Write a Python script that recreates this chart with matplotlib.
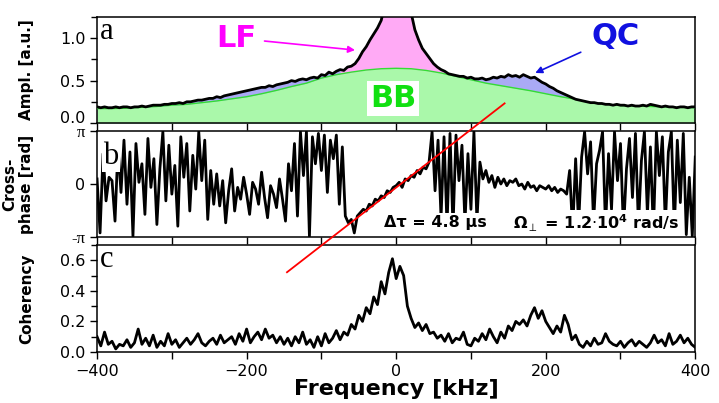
import numpy as np
import matplotlib
matplotlib.use('Agg')
import matplotlib.pyplot as plt
from matplotlib.lines import Line2D
from matplotlib.ticker import MultipleLocator, FormatStrFormatter

plt.rcParams['font.family'] = ['DejaVu Sans']
plt.rcParams['mathtext.fontset'] = 'dejavusans'

# frequency grids [kHz]
freq = np.arange(-400, 401, 5)
freq_phase = np.arange(-400, 401, 4)
freq_bb = np.arange(-400, 401, 20)

# (a) amplitude spectrum and broadband background
amplitude = [
    0.19, 0.18, 0.19, 0.18, 0.18, 0.19, 0.18, 0.19, 0.19, 0.18,
    0.19, 0.19, 0.20, 0.19, 0.20, 0.21, 0.21, 0.21, 0.22, 0.22,
    0.23, 0.23, 0.24, 0.23, 0.25, 0.25, 0.26, 0.27, 0.27, 0.28,
    0.29, 0.29, 0.31, 0.30, 0.32, 0.33, 0.34, 0.35, 0.36, 0.37,
    0.38, 0.39, 0.40, 0.41, 0.42, 0.42, 0.44, 0.43, 0.45, 0.46,
    0.47, 0.48, 0.50, 0.49, 0.51, 0.52, 0.51, 0.53, 0.54, 0.53,
    0.57, 0.56, 0.60, 0.58, 0.61, 0.63, 0.62, 0.66, 0.67, 0.70,
    0.76, 0.84, 0.90, 0.98, 1.05, 1.12, 1.21, 1.40, 1.70, 2.00,
    2.20, 2.00, 1.70, 1.45, 1.30, 1.10, 0.98, 0.88, 0.82, 0.76,
    0.70, 0.66, 0.63, 0.61, 0.58, 0.57, 0.56, 0.55, 0.55, 0.53,
    0.54, 0.52, 0.52, 0.53, 0.51, 0.52, 0.54, 0.53, 0.55, 0.54,
    0.57, 0.55, 0.56, 0.54, 0.57, 0.55, 0.53, 0.54, 0.51, 0.48,
    0.46, 0.43, 0.41, 0.38, 0.36, 0.34, 0.32, 0.30, 0.28, 0.27,
    0.26, 0.25, 0.24, 0.24, 0.23, 0.23, 0.22, 0.22, 0.21, 0.22,
    0.21, 0.21, 0.20, 0.21, 0.20, 0.20, 0.21, 0.20, 0.22, 0.21,
    0.20, 0.19, 0.20, 0.19, 0.19, 0.18, 0.19, 0.19, 0.18, 0.19,
    0.19,
]
broadband = [
    0.17, 0.17, 0.175, 0.185, 0.195, 0.21, 0.22, 0.24, 0.26, 0.285,
    0.31, 0.345, 0.385, 0.43, 0.47, 0.53, 0.57, 0.60, 0.625, 0.64,
    0.645, 0.64, 0.62, 0.59, 0.55, 0.51, 0.47, 0.44, 0.41, 0.38,
    0.345, 0.31, 0.28, 0.24, 0.225, 0.205, 0.20, 0.195, 0.19, 0.185,
    0.18,
]

# (b) cross-phase [rad]
cross_phase = [
    0.3, -2.9, 1.8, -1.0, 0.4, 0.2, -2.2, 2.2, -0.5, 2.6,
    -1.2, 1.9, -3.1, 2.4, 0.1, 1.2, -1.8, 2.7, -0.2, 1.5,
    -2.4, 0.9, 3.1, -1.0, 2.3, -0.6, 1.1, -2.5, 2.8, 0.4,
    2.4, -1.6, 1.7, -0.3, 3.1, 0.2, 2.6, -2.1, 0.8, -1.2,
    0.6, -1.3, 0.2, -2.3, -0.4, 0.9, -1.6, -0.2, -0.9, 0.4,
    -0.6, -1.8, 0.1, -0.3, -1.2, 0.7, -0.8, -2.0, -0.1, -0.6,
    -1.4, 0.3, -0.9, -2.2, 1.2, -0.4, 2.4, -1.9, 3.1, 0.5,
    3.1, -3.1, 2.8, 1.2, 3.0, 0.8, 2.9, -0.5, 2.6, 1.5,
    2.9, -1.2, 2.2, -1.9, -2.3, -2.1, -2.9, -1.9, -1.7, -1.5,
    -1.6, -1.2, -1.3, -0.9, -1.0, -0.7, -0.8, -0.4, -0.5, -0.2,
    -0.1, 0.1, -0.2, 0.3, 0.2, 0.5, 0.4, 0.8, 0.6, 1.0,
    0.9, 1.3, 3.1, -0.4, 2.6, -2.0, 2.8, -2.5, 3.0, -2.6,
    2.9, 0.2, 2.3, -2.3, 1.8, -1.5, 3.1, -2.2, 1.3, 0.3,
    0.8, 0.1, 0.5, -0.2, 0.4, 0.0, 0.3, -0.1, 0.2, 0.1,
    0.3, -0.1, 0.0, -0.3, 0.1, -0.2, -0.1, -0.4, -0.1, -0.2,
    -0.3, -0.1, -0.4, -0.2, -0.5, -0.3, -0.4, -0.6, 0.8, -2.8,
    1.5, -2.4, 1.6, 3.1, 0.6, 2.5, -2.3, 1.2, 2.0, 3.1,
    -2.6, 1.8, -1.5, 3.1, 0.2, 2.4, -2.8, 0.9, 2.7, -0.8,
    3.0, -2.5, 1.4, 3.1, -1.8, 2.2, -2.9, 3.1, 0.5, 2.8,
    -2.4, 1.9, 3.1, -2.7, 2.6, -1.1, 3.0, -3.0, 0.4, -3.1,
    1.6,
]
fit_freq = [-146, 145]
fit_phase = [-5.23, 4.78]

# (c) coherency
coherency = [
    0.10, 0.04, 0.13, 0.05, 0.07, 0.02, 0.05, 0.04, 0.08, 0.03,
    0.06, 0.15, 0.05, 0.09, 0.04, 0.11, 0.03, 0.07, 0.04, 0.12,
    0.05, 0.08, 0.03, 0.06, 0.09, 0.05, 0.08, 0.12, 0.06, 0.04,
    0.07, 0.09, 0.05, 0.11, 0.06, 0.08, 0.10, 0.05, 0.12, 0.07,
    0.15, 0.06, 0.10, 0.13, 0.08, 0.15, 0.09, 0.11, 0.06, 0.10,
    0.05, 0.09, 0.04, 0.10, 0.06, 0.13, 0.05, 0.08, 0.03, 0.10,
    0.04, 0.12, 0.06, 0.09, 0.14, 0.08, 0.13, 0.11, 0.18, 0.15,
    0.24, 0.20, 0.29, 0.25, 0.36, 0.31, 0.46, 0.38, 0.52, 0.61,
    0.48, 0.56, 0.50, 0.30, 0.22, 0.16, 0.19, 0.14, 0.18, 0.12,
    0.13, 0.09, 0.11, 0.07, 0.12, 0.06, 0.09, 0.08, 0.13, 0.05,
    0.04, 0.09, 0.07, 0.12, 0.08, 0.15, 0.10, 0.06, 0.13, 0.09,
    0.17, 0.14, 0.20, 0.18, 0.21, 0.17, 0.24, 0.29, 0.22, 0.27,
    0.20, 0.16, 0.12, 0.17, 0.13, 0.24, 0.18, 0.08, 0.11, 0.05,
    0.03, 0.07, 0.04, 0.09, 0.05, 0.06, 0.12, 0.07, 0.05, 0.04,
    0.07, 0.03, 0.06, 0.08, 0.04, 0.07, 0.05, 0.03, 0.06, 0.11,
    0.06, 0.08, 0.04, 0.12, 0.05, 0.07, 0.11, 0.06, 0.09, 0.05,
    0.03,
]

amplitude = np.array(amplitude)
freq_lf = (freq >= -75) & (freq <= 70)

fig = plt.figure(figsize=(7.19, 4.03), dpi=100)
left, width = 0.135, 0.832
ax_a = fig.add_axes([left, 0.6948, width, 0.263])
ax_b = fig.add_axes([left, 0.4119, width, 0.263])
ax_c = fig.add_axes([left, 0.1266, width, 0.2655])

for ax in (ax_a, ax_b, ax_c):
    ax.set_xlim(-400, 400)
    ax.set_xticks([-400, -200, 0, 200, 400])
    ax.xaxis.set_minor_locator(MultipleLocator(100))
    ax.tick_params(which='both', direction='out', labelsize=11.5, width=1.0)
    ax.tick_params(which='major', length=5)
    ax.tick_params(which='minor', length=4)
    ax.tick_params(axis='x', which='minor', length=5)
    for sp in ax.spines.values():
        sp.set_linewidth(1.1)
ax_a.tick_params(axis='x', labelbottom=False)
ax_b.tick_params(axis='x', labelbottom=False)

# amplitude with LF / QC / BB components
ax_a.fill_between(freq, 0, amplitude, color='#aaaaf5', lw=0, zorder=1)
ax_a.fill_between(freq, 0, amplitude, where=freq_lf, color='#ffaaf5', lw=0, zorder=1.5)
ax_a.fill_between(freq_bb, 0, broadband, color='#aaf8aa', lw=0, zorder=2)
ax_a.plot(freq_bb, broadband, color='#33dd33', lw=1.0, zorder=3)
ax_a.plot(freq, amplitude, color='black', lw=2.0, zorder=4)
ax_a.set_ylim(0, 1.25)
ax_a.set_yticks([0.0, 0.5, 1.0])
ax_a.yaxis.set_minor_locator(MultipleLocator(0.25))
ax_a.yaxis.set_major_formatter(FormatStrFormatter('%.1f'))
ax_a.get_yticklabels()[0].set_va('baseline')
ax_a.set_ylabel('Ampl. [a.u.]', fontsize=11, fontweight='bold')

ax_a.text(0.005, 1.0, 'a', transform=ax_a.transAxes, ha='left', va='top',
          family='Liberation Serif', fontsize=22)
ax_a.annotate('LF', xy=(-55, 0.86), xytext=(-214, 1.0), ha='center', va='center',
              fontsize=22, fontweight='bold', color='#ff00ff', zorder=6,
              arrowprops=dict(arrowstyle='-|>', color='#ff00ff', lw=1.2,
                              mutation_scale=10, shrinkA=4, shrinkB=0))
ax_a.annotate('QC', xy=(186, 0.59), xytext=(293, 1.02), ha='center', va='center',
              fontsize=22, fontweight='bold', color='#1010e0', zorder=6,
              arrowprops=dict(arrowstyle='-|>', color='#1010e0', lw=1.2,
                              mutation_scale=10, shrinkA=6, shrinkB=0))
ax_a.text(-4, 0.29, 'BB', ha='center', va='center', fontsize=22, fontweight='bold',
          color='#11e011', zorder=6,
          bbox=dict(facecolor='white', edgecolor='none', pad=2))

# cross-phase
ax_b.plot(freq_phase, cross_phase, color='black', lw=2.0, zorder=2)
ax_b.set_ylim(-np.pi, np.pi)
ax_b.set_yticks([-np.pi, 0, np.pi])
ax_b.set_yticklabels(['-\u03c0', '0', '\u03c0'])
for lbl in ax_b.get_yticklabels():
    if '\u03c0' in lbl.get_text():
        lbl.set_family('Liberation Serif')
        lbl.set_fontsize(12)
ax_b.set_ylabel('Cross-\nphase [rad]', fontsize=11, fontweight='bold')
ax_b.text(0.01, 0.9, 'b', transform=ax_b.transAxes, ha='left', va='top',
          family='Liberation Serif', fontsize=22, zorder=5,
          bbox=dict(facecolor='white', edgecolor='none', pad=1))
ax_b.text(52, -2.3, '\u0394\u03c4 = 4.8 \u03bcs', ha='center', va='center',
          fontsize=11.5, fontweight='bold', zorder=5,
          bbox=dict(facecolor='white', edgecolor='none', pad=1.5))
ax_b.text(268, -2.3, r'$\mathbf{\Omega}_{\perp}$ = 1.2$\cdot$10$^{\mathbf{4}}$ rad/s',
          ha='center', va='center', fontsize=11.5, fontweight='bold', zorder=5,
          bbox=dict(facecolor='white', edgecolor='none', pad=1.5))

# coherency
ax_c.plot(freq, coherency, color='black', lw=2.0)
ax_c.set_ylim(0, 0.7)
ax_c.set_yticks([0.0, 0.2, 0.4, 0.6])
ax_c.yaxis.set_minor_locator(MultipleLocator(0.1))
ax_c.yaxis.set_major_formatter(FormatStrFormatter('%.1f'))
ax_c.set_ylabel('Coherency', fontsize=11, fontweight='bold')
ax_c.set_xlabel('Frequency [kHz]', fontsize=16, fontweight='bold', labelpad=0.5)
ax_c.text(0.005, 1.0, 'c', transform=ax_c.transAxes, ha='left', va='top',
          family='Liberation Serif', fontsize=22)

for ax in (ax_a, ax_b, ax_c):
    ax.yaxis.set_label_coords(-0.105, 0.5)

# linear phase fit, drawn across the panels
fig.add_artist(Line2D(fit_freq, fit_phase, transform=ax_b.transData,
                      color='red', lw=1.3, zorder=10))

fig.savefig('out.png', dpi=100)
